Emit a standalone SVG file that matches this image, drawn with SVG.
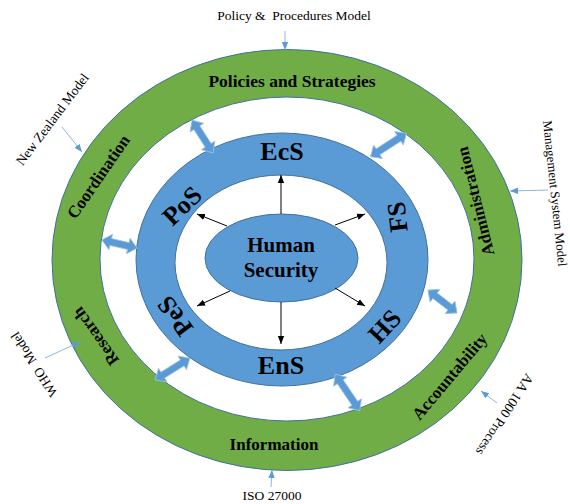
<svg xmlns="http://www.w3.org/2000/svg" width="570" height="504" viewBox="0 0 570 504">
<style>
  .green{fill:#70AD47;stroke:#41719C;stroke-width:1;fill-rule:evenodd}
  .blue{fill:#5B9BD5;stroke:#41719C;stroke-width:1;fill-rule:evenodd}
  .gl{font-family:"Liberation Serif","Times New Roman",serif;font-weight:bold;font-size:17px;fill:#000;text-anchor:middle}
  .rl{font-family:"Liberation Serif","Times New Roman",serif;font-weight:bold;font-size:26px;fill:#000;text-anchor:middle}
  .cl{font-family:"Liberation Serif","Times New Roman",serif;font-weight:bold;font-size:21px;fill:#000;text-anchor:middle}
  .ol{font-family:"Liberation Serif","Times New Roman",serif;font-size:13.5px;fill:#000}
  .blk{fill:#5B9BD5;stroke:#9DC3E6;stroke-width:0.8}
  .bl{stroke:#000;stroke-width:1;fill:none;marker-end:url(#ah)}
  .lb{stroke:#8DB7E2;stroke-width:1;fill:none;marker-end:url(#lh)}
</style>
<defs>
  <marker id="ah" markerUnits="userSpaceOnUse" markerWidth="8" markerHeight="8" viewBox="0 0 8 8" refX="8" refY="4" orient="auto">
    <path d="M0,0.8 L8,4 L0,7.2 Z" fill="#000"/>
  </marker>
  <marker id="lh" markerUnits="userSpaceOnUse" markerWidth="8" markerHeight="8" viewBox="0 0 8 8" refX="8" refY="4" orient="auto">
    <path d="M0,0.8 L8,4 L0,7.2 Z" fill="#5B9BD5"/>
  </marker>
</defs>
<rect width="570" height="504" fill="#fff"/>

<g id="outer-ring">
  <path class="green" d="M52,260 A235,210.5 0 1 0 522,260 A235,210.5 0 1 0 52,260 Z M100,259 A187,162 0 1 0 474,259 A187,162 0 1 0 100,259 Z"/>
</g>
<g id="middle-ring">
  <path class="blue" d="M136,259.5 A146,126.5 0 1 0 428,259.5 A146,126.5 0 1 0 136,259.5 Z M175,262.5 A106,87.5 0 1 0 387,262.5 A106,87.5 0 1 0 175,262.5 Z"/>
</g>
<g id="human-security">
  <ellipse cx="281.5" cy="258" rx="76.5" ry="44" fill="#5B9BD5" stroke="#41719C" stroke-width="1"/>
  <text class="cl" x="281" y="252">Human</text>
  <text class="cl" x="281" y="277">Security</text>
</g>

<g id="policies"><text class="gl" x="292" y="87" style="font-size:17.5px">Policies and Strategies</text></g>
<g id="information"><text class="gl" x="274" y="450">Information</text></g>
<g id="coordination"><text class="gl" transform="translate(103,180) rotate(-55.5)">Coordination</text></g>
<g id="research"><text class="gl" transform="translate(100.5,333) rotate(-125.5)">Research</text></g>
<g id="administration"><text class="gl" transform="translate(481,200) rotate(-104)">Administration</text></g>
<g id="accountability"><text class="gl" transform="translate(454,380) rotate(-50)">Accountability</text></g>

<g id="ecs"><text class="rl" x="282" y="160">EcS</text></g>
<g id="ens"><text class="rl" x="281" y="374">EnS</text></g>
<g id="pos"><text class="rl" transform="translate(188,212) rotate(-44)">PoS</text></g>
<g id="pes"><text class="rl" transform="translate(182,311) rotate(-126)">PeS</text></g>
<g id="fs"><text class="rl" transform="translate(406,216) rotate(-97)">FS</text></g>
<g id="hs"><text class="rl" transform="translate(391,332) rotate(-47)">HS</text></g>

<g id="policy-procedures"><text class="ol" x="294" y="20" text-anchor="middle" xml:space="preserve">Policy &amp;  Procedures Model</text></g>
<g id="new-zealand"><text class="ol" text-anchor="middle" transform="translate(56,122) rotate(-53)">New Zealand Model</text></g>
<g id="management"><text class="ol" transform="translate(543,121) rotate(84)" style="font-size:13px">Management System Model</text></g>
<g id="who"><text class="ol" text-anchor="middle" transform="translate(38,362) rotate(-123)" xml:space="preserve">WHO  Model</text></g>
<g id="aa1000"><text class="ol" text-anchor="middle" transform="translate(501,412) rotate(123)">AA 1000 Process</text></g>
<g id="iso"><text class="ol" x="272" y="500" text-anchor="middle">ISO 27000</text></g>

<g id="connectors">
  <line class="bl" x1="281" y1="214" x2="281" y2="175"/>
  <line class="bl" x1="281" y1="302" x2="281" y2="344"/>
  <line class="bl" x1="227" y1="226" x2="197" y2="214"/>
  <line class="bl" x1="335" y1="225" x2="365" y2="214"/>
  <line class="bl" x1="230" y1="291" x2="197" y2="306"/>
  <line class="bl" x1="335" y1="288" x2="365" y2="306"/>

  <line class="lb" x1="285" y1="31" x2="285" y2="50"/>
  <line class="lb" x1="62" y1="127" x2="82" y2="152"/>
  <line class="lb" x1="548" y1="190" x2="510" y2="191"/>
  <line class="lb" x1="45" y1="358" x2="80" y2="342"/>
  <line class="lb" x1="497" y1="403" x2="481" y2="391"/>
  <line class="lb" x1="271" y1="487" x2="272" y2="470"/>

  <path class="blk" transform="translate(202.5,136.5) rotate(57.5)" d="M-19.5,0 L-10.5,-8 L-10.5,-3.5 L10.5,-3.5 L10.5,-8 L19.5,0 L10.5,8 L10.5,3.5 L-10.5,3.5 L-10.5,8 Z"/>
  <path class="blk" transform="translate(388.5,145) rotate(-33)" d="M-21.5,0 L-12.5,-8 L-12.5,-3.5 L12.5,-3.5 L12.5,-8 L21.5,0 L12.5,8 L12.5,3.5 L-12.5,3.5 L-12.5,8 Z"/>
  <path class="blk" transform="translate(119.5,244) rotate(13)" d="M-18,0 L-9,-8 L-9,-3.5 L9,-3.5 L9,-8 L18,0 L9,8 L9,3.5 L-9,3.5 L-9,8 Z"/>
  <path class="blk" transform="translate(442.5,301.5) rotate(38)" d="M-18.5,0 L-9.5,-8 L-9.5,-3.5 L9.5,-3.5 L9.5,-8 L18.5,0 L9.5,8 L9.5,3.5 L-9.5,3.5 L-9.5,8 Z"/>
  <path class="blk" transform="translate(172.5,369) rotate(-32)" d="M-20.5,0 L-11.5,-8 L-11.5,-3.5 L11.5,-3.5 L11.5,-8 L20.5,0 L11.5,8 L11.5,3.5 L-11.5,3.5 L-11.5,8 Z"/>
  <path class="blk" transform="translate(347.5,392.5) rotate(56)" d="M-22,0 L-13,-8 L-13,-3.5 L13,-3.5 L13,-8 L22,0 L13,8 L13,3.5 L-13,3.5 L-13,8 Z"/>
</g>
</svg>
